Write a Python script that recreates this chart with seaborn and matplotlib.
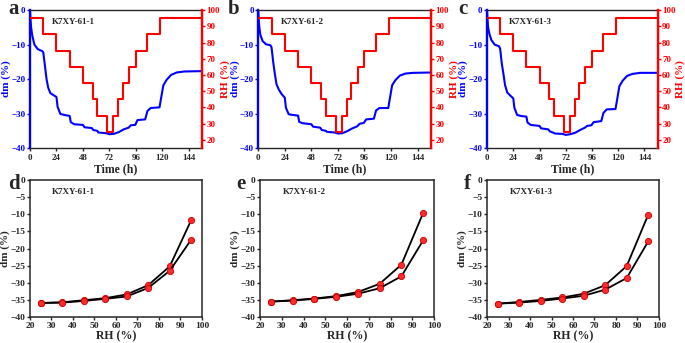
import numpy as np
import pandas as pd
import seaborn as sns
import matplotlib
matplotlib.use("Agg")
import matplotlib.pyplot as plt

# time series (h) shared by panels a-c
time_h = [0, 0.5, 1, 2, 4, 7, 11, 12, 13.5, 15, 16.5, 18.5, 21, 24, 25, 27.5, 31, 36, 37, 40,
          48, 49.5, 56, 57.5, 61, 62, 69, 72, 76, 80.5, 85, 89.5, 91.5, 95.5, 97.5, 104.5,
          106.5, 109.5, 117.5, 119.5, 121, 124, 128, 133, 140, 156]

dm_a = [0, -3, -5, -7.3, -10, -11.3, -11.9, -12.2, -16, -20, -22.5, -24.1, -24.6, -25.2, -28,
        -30.1, -30.4, -30.7, -32.5, -33.1, -33.3, -34, -34.2, -34.8, -35, -35.5, -35.7, -36,
        -35.9, -35.4, -34.6, -34.1, -33.4, -33.3, -31.9, -31.7, -29.3, -28.4, -28.2, -24.5,
        -21.8, -20.2, -18.8, -18.1, -17.8, -17.7]
dm_b = [0, -3, -5, -7.3, -9, -9.9, -10.2, -10.8, -15, -18.5, -21.5, -23, -24.3, -25.4, -28.3,
        -30.2, -30.4, -30.6, -32.4, -32.8, -33.1, -33.8, -34.1, -34.8, -35, -35.3, -35.5, -35.8,
        -35.7, -35.1, -34.3, -33.7, -33, -32.7, -31.7, -31.5, -29.1, -28.4, -28.4, -24.6,
        -21.8, -20.3, -19, -18.4, -18.2, -18.1]
dm_c = [0, -3, -5, -6.7, -8.7, -10, -10.5, -11.2, -15.5, -18.5, -21.8, -23.9, -24.7, -25.6, -28.3,
        -30.4, -30.7, -30.9, -32.6, -33.3, -33.6, -34.3, -34.6, -35.2, -35.6, -35.8, -35.9, -36.2,
        -36, -35.6, -34.8, -34.1, -33.6, -33.4, -32.5, -32.2, -29.8, -28.8, -28.7, -25,
        -22.1, -20.5, -19.1, -18.5, -18.2, -18.2]

# RH program (step changes)
rh_time = [0, 12, 24, 36, 48, 57, 61, 70, 75.5, 80, 84, 90, 96, 106, 118, 156]
rh_level = [95, 85, 75, 65, 55, 45, 35, 25, 35, 45, 55, 65, 75, 85, 95, 95]

# isotherms (panels d-f)
rh_des = [95, 85, 75, 65, 55, 45, 35, 25]
rh_ads = [25, 35, 45, 55, 65, 75, 85, 95]
des_d = [-11.7, -25.2, -30.7, -33.4, -34.5, -35.1, -35.7, -35.9]
ads_d = [-35.9, -35.8, -35.3, -34.7, -34.0, -31.5, -26.5, -17.4]
des_e = [-9.6, -24.7, -30.3, -32.7, -33.9, -34.6, -35.1, -35.5]
ads_e = [-35.5, -35.2, -34.7, -34.1, -33.2, -31.6, -28.1, -17.6]
des_f = [-10.1, -25.1, -30.7, -33.2, -34.3, -35.0, -35.6, -36.1]
ads_f = [-36.1, -35.8, -35.3, -34.6, -33.8, -32.0, -28.6, -17.9]

samples = ["K7XY-61-1", "K7XY-61-2", "K7XY-61-3"]

sns.set_style("ticks")
plt.rcParams['font.family'] = ['Liberation Serif', 'DejaVu Serif']
plt.rcParams['font.weight'] = 'bold'
plt.rcParams['axes.labelweight'] = 'bold'

BLUE = "#0000ff"
RED = "#ff0000"

fig = plt.figure(figsize=(6.85, 3.43), dpi=100)

top_pos = [[0.0438, 0.5685, 0.251, 0.402],
           [0.377, 0.5685, 0.252, 0.402],
           [0.711, 0.5685, 0.249, 0.402]]
bot_pos = [[0.0438, 0.0758, 0.251, 0.399],
           [0.3796, 0.0758, 0.254, 0.399],
           [0.711, 0.0758, 0.251, 0.399]]

for i, dm in enumerate([dm_a, dm_b, dm_c]):
    ax = fig.add_axes(top_pos[i])
    sns.lineplot(x=time_h, y=dm, ax=ax, color=BLUE, linewidth=1.5)
    ax.set_xlim(0, 156)
    ax.set_ylim(-40, 0)
    ax.set_xticks([0, 24, 48, 72, 96, 120, 144])
    ax.set_yticks([-40, -30, -20, -10, 0])
    ax.set_xlabel("Time (h)", fontsize=8.5, labelpad=1)
    ax.set_ylabel("dm (%)", fontsize=8, color=BLUE, labelpad=0)
    ax.tick_params(axis='x', labelsize=6.5, length=2.5, width=1, pad=1.5)
    ax.tick_params(axis='y', labelsize=6.5, length=2.5, width=1, pad=0.8,
                   colors=BLUE)
    ax.spines['left'].set_color(BLUE)
    ax.spines['left'].set_linewidth(1.7)
    for s in ['top', 'bottom']:
        ax.spines[s].set_linewidth(1.0)
    ax.text(0.13, 0.94, samples[i], transform=ax.transAxes, fontsize=6.5,
            fontweight='bold', va='top')

    ax2 = ax.twinx()
    sns.lineplot(x=rh_time, y=rh_level, ax=ax2, color=RED, linewidth=1.5,
                 drawstyle='steps-post')
    ax2.set_ylim(15, 100)
    ax2.set_yticks(range(20, 101, 10))
    ax2.set_ylabel("RH (%)", fontsize=8, color=RED, labelpad=0)
    ax2.tick_params(axis='y', labelsize=6.5, length=2.5, width=1, pad=0.8,
                    colors=RED)
    ax2.spines['right'].set_color(RED)
    ax2.spines['right'].set_linewidth(1.7)
    ax2.spines['left'].set_visible(False)
    ax2.spines['top'].set_visible(False)
    ax2.spines['bottom'].set_visible(False)

iso = [(des_d, ads_d), (des_e, ads_e), (des_f, ads_f)]
for i, (des, ads) in enumerate(iso):
    ax = fig.add_axes(bot_pos[i])
    for xs, ys in [(rh_des, des), (rh_ads, ads)]:
        sns.lineplot(x=xs, y=ys, ax=ax, color='black', linewidth=1.3,
                     marker='o', markersize=4.5, markerfacecolor='#ff2a2a',
                     markeredgecolor='#cc0000', markeredgewidth=0.6)
    ax.set_xlim(20, 100)
    ax.set_ylim(-40, 0)
    ax.set_xticks(range(20, 101, 10))
    ax.set_yticks(range(-40, 1, 5))
    ax.set_xlabel("RH (%)", fontsize=8.5, labelpad=0.5)
    ax.set_ylabel("dm (%)", fontsize=8, labelpad=0)
    ax.tick_params(labelsize=6.8, length=2.5, width=1, pad=0.8)
    for s in ax.spines.values():
        s.set_linewidth(1.1)
    ax.text(0.13, 0.94, samples[i], transform=ax.transAxes, fontsize=6.5,
            fontweight='bold', va='top')

letters_top = [("a", 8), ("b", 228), ("c", 458)]
letters_bot = [("d", 8), ("e", 236), ("f", 464)]
for l, x in letters_top:
    fig.text(x / 685, 1 - 14 / 343, l, fontsize=15, fontweight='bold', va='baseline')
for l, x in letters_bot:
    fig.text(x / 685, 1 - 189 / 343, l, fontsize=15, fontweight='bold', va='baseline')

fig.savefig("out.png", dpi=100)
